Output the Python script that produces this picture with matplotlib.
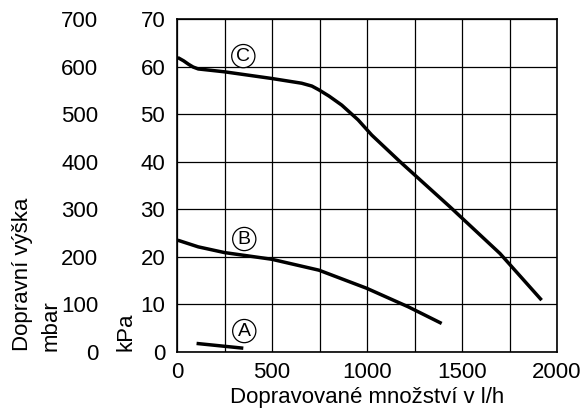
import matplotlib
matplotlib.use("Agg")
from matplotlib import pyplot as plt

plt.rcParams['font.family'] = ['Liberation Sans', 'DejaVu Sans']

# curve C
c_flow = [4, 35, 60, 85, 112, 250, 498, 656, 710, 747, 800, 867, 953, 1025, 1174, 1437, 1700, 1919]
c_head = [61.9, 61.2, 60.5, 59.9, 59.5, 58.9, 57.5, 56.5, 55.9, 55.1, 53.8, 51.9, 48.8, 45.6, 40.0, 30.5, 20.7, 10.9]
# curve B
b_flow = [4, 112, 250, 498, 747, 998, 1217, 1393]
b_head = [23.5, 22.1, 20.9, 19.5, 17.2, 13.4, 9.5, 6.0]
# curve A
a_flow = [103, 349]
a_head = [1.8, 0.8]

curve_names = ['A', 'B', 'C']
label_flow = [354, 354, 349]
label_head = [4.4, 23.75, 62.2]

kpa_ticks = [0, 10, 20, 30, 40, 50, 60, 70]
flow_ticks = [0, 500, 1000, 1500, 2000]

fig = plt.figure(figsize=(5.85, 4.17), dpi=100)
ax = fig.add_axes([177 / 585, 65 / 417, 380 / 585, 333 / 417])

for fx, fy in [(c_flow, c_head), (b_flow, b_head), (a_flow, a_head)]:
    ax.plot(fx, fy, color='black', lw=2.5, solid_capstyle='butt', solid_joinstyle='round')

for name, fx, fy in zip(curve_names, label_flow, label_head):
    ax.text(fx, fy, name, ha='center', va='center', fontsize=14,
            bbox=dict(boxstyle='circle,pad=0.16', fc='white', ec='black', lw=0.9))

ax.set_xlim(0, 2000)
ax.set_ylim(0, 70)
ax.set_xticks(range(0, 2001, 250))
ax.set_xticklabels([str(v) if v in flow_ticks else '' for v in range(0, 2001, 250)])
ax.set_yticks(kpa_ticks)
ax.grid(True, color='black', lw=0.9)
ax.tick_params(length=0, labelsize=16)
ax.tick_params(axis='x', pad=7)
ax.tick_params(axis='y', pad=8.5)
for s in ax.spines.values():
    s.set_linewidth(1.2)

sec = ax.secondary_yaxis(-0.176, functions=(lambda v: v * 10, lambda v: v / 10))
sec.set_yticks([v * 10 for v in kpa_ticks])
sec.spines['left'].set_visible(False)
sec.tick_params(length=0, labelsize=16, pad=8.5)

ax.set_xlabel('Dopravované množství v l/h', fontsize=16, labelpad=3)

fig.text(23 / 585, 66 / 417, 'Dopravní výška', rotation=90, ha='center', va='bottom', fontsize=16)
fig.text(51 / 585, 66 / 417, 'mbar', rotation=90, ha='center', va='bottom', fontsize=16)
fig.text(126 / 585, 66 / 417, 'kPa', rotation=90, ha='center', va='bottom', fontsize=16)

fig.savefig('out.png', dpi=100)
